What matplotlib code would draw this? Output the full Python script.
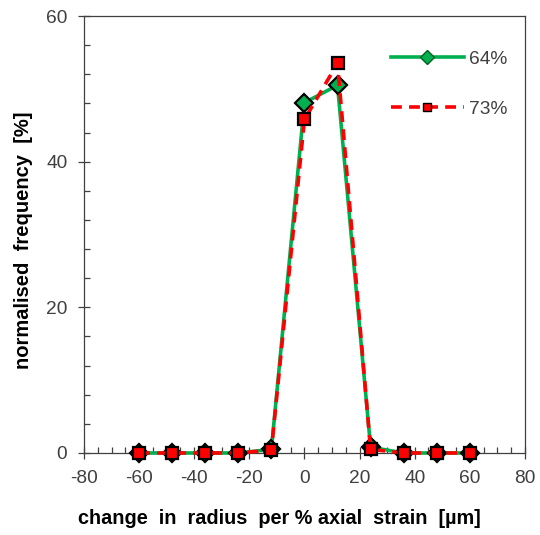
import matplotlib
matplotlib.use("Agg")
import matplotlib.pyplot as plt
from matplotlib.ticker import MultipleLocator

plt.rcParams['font.family'] = ['Liberation Sans', 'DejaVu Sans']
plt.rcParams['axes.unicode_minus'] = False

x_vals = [-60, -48, -36, -24, -12, 0, 12, 24, 36, 48, 60]
s64 = [0.0, 0.0, 0.0, 0.0, 0.5, 48.1, 50.5, 0.8, 0.0, 0.0, 0.0]
s73 = [0.0, 0.0, 0.0, 0.0, 0.4, 45.8, 53.5, 0.5, 0.0, 0.0, 0.0]
labels = ['64%', '73%']

fig = plt.figure(figsize=(5.4, 5.35), dpi=100)
ax = fig.add_axes([0.1556, 0.1533, 0.8164, 0.8167])

ax.plot(x_vals, s64, color='#00b050', lw=2.6, marker='D', ms=9,
        mfc='#00b050', mec='black', mew=1.6, label=labels[0], zorder=3, clip_on=False)
ax.plot(x_vals, s73, color='#ff0000', lw=2.6, ls=(0, (3, 2)), marker='s', ms=8,
        mfc='#ff0000', mec='black', mew=1.6, label=labels[1], zorder=4, clip_on=False)

ax.set_xlim(-80, 80)
ax.set_ylim(0, 60)
ax.xaxis.set_major_locator(MultipleLocator(20))
ax.xaxis.set_minor_locator(MultipleLocator(5))
ax.yaxis.set_major_locator(MultipleLocator(20))
ax.yaxis.set_minor_locator(MultipleLocator(4))
ax.tick_params(which='major', direction='inout', length=8, width=0.9,
               labelsize=13.8, colors='#404040', labelcolor='#404040', pad=8)
ax.tick_params(which='minor', direction='in', length=4, width=0.9, colors='#404040')
for sp in ax.spines.values():
    sp.set_color('#404040')
    sp.set_linewidth(0.9)

ax.set_xlabel('change  in  radius  per % axial  strain  [µm]', fontsize=14.3,
              fontweight='bold')
ax.xaxis.set_label_coords(0.444, -0.149)
ax.xaxis.label.set_va('center')
ax.set_ylabel('normalised  frequency  [%]', fontsize=14.5, fontweight='bold')
ax.yaxis.set_label_coords(-0.138, 0.487)
ax.yaxis.label.set_va('center')

leg = ax.legend(loc='upper right', frameon=False, fontsize=13.8, markerscale=0.75,
                handlelength=3.8, labelspacing=1.7, handletextpad=0.3,
                bbox_to_anchor=(1.0, 0.96))
for t in leg.get_texts():
    t.set_color('#404040')
leg.legend_handles[0].set_markeredgecolor('#006020')
leg.legend_handles[0].set_markeredgewidth(1.0)
leg.legend_handles[1].set_markeredgewidth(1.0)

fig.savefig('out.png', dpi=100)
